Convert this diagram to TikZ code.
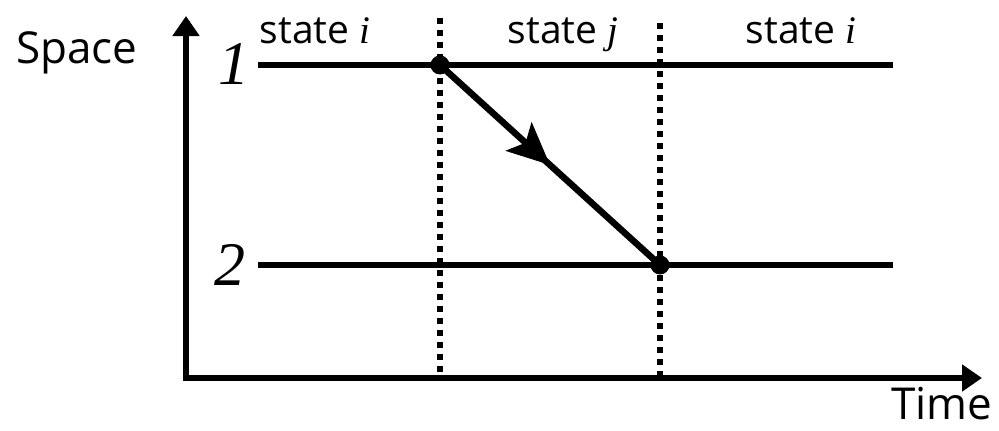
\documentclass[tikz,border=0pt]{standalone}
\usepackage{fontspec}
\setmainfont{Open Sans}
\newfontfamily\levelfont{Liberation Serif}
\usetikzlibrary{arrows.meta, positioning, decorations.markings}

\begin{document}
\begin{tikzpicture}[
    x=1pt, y=-1pt,
    axis/.style={
        line width=6.5pt,
        {Triangle[length=20pt,width=26pt]}-{Triangle[length=20pt,width=26pt]}
    },
    level/.style={
        line width=6.5pt
    },
    divider/.style={
        line width=5.5pt,
        dash pattern=on 5.5pt off 6.5pt
    },
    event/.style={
        circle,
        fill=black,
        inner sep=0pt,
        minimum size=19pt
    },
    jump/.style={
        line width=6.5pt,
        decoration={markings, mark=at position 0.5 with {\arrow{Stealth[length=42pt,width=38pt,inset=9pt]}}},
        postaction={decorate}
    },
    axislabel/.style={
        font=\fontsize{44}{46}\selectfont,
        inner sep=0pt,
        anchor=base
    },
    statelabel/.style={
        font=\fontsize{39}{42}\selectfont,
        inner sep=0pt,
        anchor=base
    },
    levellabel/.style={
        font=\fontsize{62}{64}\selectfont\levelfont\itshape
    }
]
\useasboundingbox (0,0) rectangle (999,431);

% Axes
\coordinate (spacetip) at (186,16);
\coordinate (origin) at (186,378);
\coordinate (timetip) at (982,378);
\draw[axis] (spacetip) -- (origin) -- (timetip);
\node[axislabel] (space) at (77,63) {Space};
\node[axislabel] (time) at (942,419) {Time};

% Dividers between states
\coordinate (d1top) at (440,18);
\coordinate (d1bot) at (440,378);
\coordinate (d2top) at (660,23);
\coordinate (d2bot) at (660,378);
\draw[divider] (d1top) -- (d1bot);
\draw[divider] (d2top) -- (d2bot);

% Levels 1 and 2
\coordinate (l1a) at (258,65);
\coordinate (l1b) at (893,65);
\coordinate (l2a) at (258,265);
\coordinate (l2b) at (893,265);
\draw[level] (l1a) -- (l1b);
\draw[level] (l2a) -- (l2b);
\node[levellabel] (n1) at (234,64) {1};
\node[levellabel] (n2) at (230,265) {2};

% State labels
\node[statelabel] (si1) at (315,43) {state \levelfont\itshape i};
\node[statelabel] (sj) at (563,43) {state \levelfont\itshape j};
\node[statelabel] (si2) at (801,43) {state \levelfont\itshape i};

% Transition
\node[event] (e1) at (440,65) {};
\node[event] (e2) at (660,265) {};
\draw[jump] (e1.center) -- (e2.center);

\end{tikzpicture}
\end{document}
